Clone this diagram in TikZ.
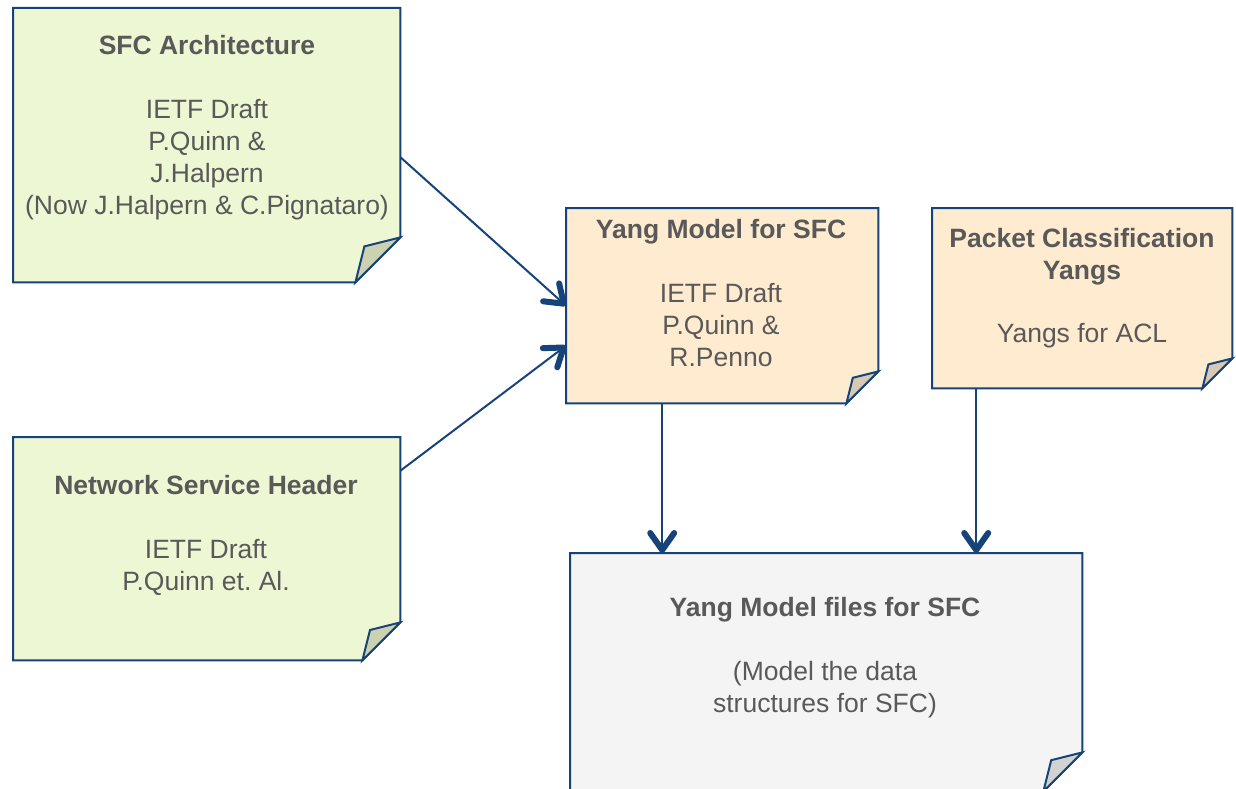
\documentclass[tikz,border=0pt]{standalone}
\usepackage{fontspec}
\setmainfont{Liberation Sans}
\usetikzlibrary{arrows.meta,calc}
\frenchspacing
\definecolor{bord}{RGB}{22,68,122}
\definecolor{txt}{RGB}{89,89,89}
\definecolor{grn}{RGB}{237,247,211}
\definecolor{grnf}{RGB}{204,209,176}
\definecolor{org}{RGB}{254,235,208}
\definecolor{orgf}{RGB}{217,201,178}
\definecolor{gry}{RGB}{244,244,244}
\definecolor{gryf}{RGB}{210,210,210}
\newcommand\drawnote[4]{%
  \draw[bordline,fill=#3] (#1.north west) -- (#1.north east) -- ([yshift=#2]#1.south east) -- ([xshift=-#2]#1.south east) -- (#1.south west) -- cycle;
  \draw[bordline,fill=#4] ([yshift=#2]#1.south east) -- ([xshift=-0.8*#2,yshift=0.8*#2]#1.south east) -- ([xshift=-#2]#1.south east) -- cycle;}
\begin{document}
\begin{tikzpicture}[x=1pt,y=-1pt,
  notebox/.style={rectangle,inner sep=0pt,anchor=north west},
  bordline/.style={draw=bord,line width=2pt,line join=miter},
  notetext/.style={anchor=base,align=center,inner sep=0pt,text=txt,font=\fontsize{26.5pt}{32pt}\selectfont},
  arr/.style={draw=bord,line width=2pt,-{Straight Barb[length=17pt,width=24pt,line width=6pt,round]}}]
\useasboundingbox (0,0) rectangle (1236,789);
\begin{scope}
\clip (0,0) rectangle (1236,789);
% nodes (boxes)
\node[notebox,minimum width=387pt,minimum height=274pt] (a) at (13,8) {};
\node[notebox,minimum width=387pt,minimum height=223pt] (b) at (13,437) {};
\node[notebox,minimum width=312pt,minimum height=195pt] (c) at (566,208) {};
\node[notebox,minimum width=300pt,minimum height=180pt] (d) at (932,208) {};
\node[notebox,minimum width=512pt,minimum height=238pt] (e) at (570,553) {};
\drawnote{a}{45pt}{grn}{grnf}
\drawnote{b}{38pt}{grn}{grnf}
\drawnote{c}{32pt}{org}{orgf}
\drawnote{d}{30pt}{org}{orgf}
\drawnote{e}{39pt}{gry}{gryf}
\end{scope}
% texts (anchor = baseline of last line)
\node[notetext] (at) at (207,214) {\textbf{SFC Architecture}\\[32pt]IETF Draft\\P.Quinn \&\\J.Halpern\\(Now J.Halpern \& C.Pignataro)};
\node[notetext] (bt) at (206,590) {\textbf{Network Service Header}\\[32pt]IETF Draft\\P.Quinn et. Al.};
\node[notetext] (ct) at (721,366) {\textbf{Yang Model for SFC}\\[32pt]IETF Draft\\P.Quinn \&\\R.Penno};
\node[notetext] (dt) at (1082,342) {\textbf{Packet Classification}\\\textbf{Yangs}\\[31pt]Yangs for ACL};
\node[notetext] (et) at (825,712) {\textbf{Yang Model files for SFC}\\[32pt](Model the data\\structures for SFC)};
% connectors
\draw[arr] ([yshift=-12pt]a.east) -- (c.west);
\draw[arr] ([yshift=78pt]b.east) -- ([yshift=-40pt]c.west);
\draw[arr] ([xshift=-60pt]c.south) -- ([xshift=-60pt]c.south |- e.north);
\draw[arr] ([xshift=-106pt]d.south) -- ([xshift=-106pt]d.south |- e.north);
\end{tikzpicture}
\end{document}
